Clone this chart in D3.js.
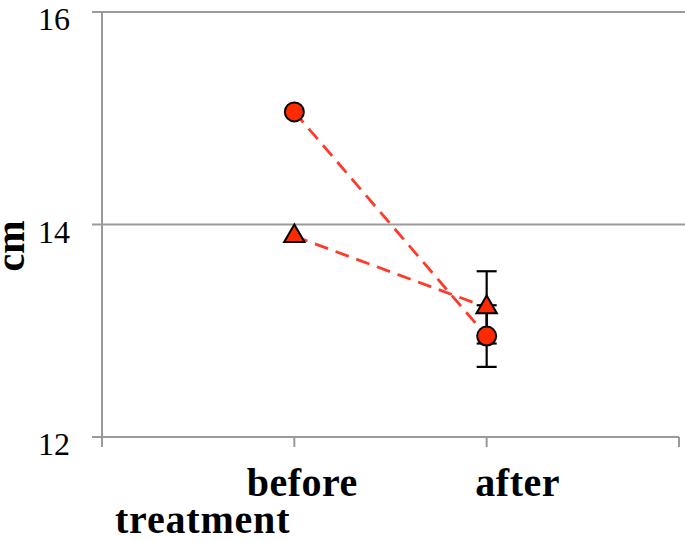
<!DOCTYPE html>
<html>
<head>
<meta charset="utf-8">
<script src="https://cdn.jsdelivr.net/npm/d3@7"></script>
<style>
  body { margin: 0; background: #fff; }
  svg { display: block; }
</style>
</head>
<body>
<div id="chart"></div>
<script>
// data
var categories = ["before", "after"];
var circleValues = [15.06, 12.95];
var circleErrors = [0, 0.29];
var triangleValues = [13.89, 13.22];
var triangleErrors = [0, 0.34];
var yTicks = [12, 14, 16];

var width = 685, height = 542;

var svg = d3.select("#chart").append("svg")
    .attr("width", width)
    .attr("height", height);

var x = d3.scalePoint().domain(categories).range([102, 679]).padding(1);
var y = d3.scaleLinear().domain([12, 16]).range([437, 12]);

var grey = "#9a9a9a";
var serif = "'Liberation Serif', 'DejaVu Serif', serif";

// grid lines
svg.append("g").selectAll("line")
    .data(yTicks.filter(function(d) { return d > 12; }))
    .enter().append("line")
    .attr("x1", 92).attr("x2", 685)
    .attr("y1", function(d) { return y(d); })
    .attr("y2", function(d) { return y(d); })
    .style("stroke", grey)
    .style("stroke-width", 2);

// y axis line
svg.append("line")
    .attr("x1", 102).attr("x2", 102)
    .attr("y1", y(16)).attr("y2", y(12))
    .style("stroke", grey).style("stroke-width", 2);

// x axis line + ticks
svg.append("line")
    .attr("x1", 92).attr("x2", x.range()[1])
    .attr("y1", y(12)).attr("y2", y(12))
    .style("stroke", grey).style("stroke-width", 2);

var tickXs = [x.range()[0]].concat(categories.map(function(d) { return x(d); }), [x.range()[1]]);
svg.append("g").selectAll("line")
    .data(tickXs)
    .enter().append("line")
    .attr("x1", function(d) { return d; })
    .attr("x2", function(d) { return d; })
    .attr("y1", y(12)).attr("y2", y(12) + 10)
    .style("stroke", grey).style("stroke-width", 2);

// y tick labels
svg.append("g").selectAll("text")
    .data(yTicks)
    .enter().append("text")
    .attr("x", 70)
    .attr("y", function(d) { return y(d) + 18; })
    .attr("text-anchor", "end")
    .style("font-family", serif)
    .style("font-size", "32px")
    .text(function(d) { return d; });

// category labels (they sit a bit right of the ticks in the original)
var labelShift = { before: 8, after: 31 };
svg.append("g").selectAll("text")
    .data(categories)
    .enter().append("text")
    .attr("x", function(d) { return x(d) + labelShift[d]; })
    .attr("y", 496)
    .attr("text-anchor", "middle")
    .style("font-family", serif)
    .style("font-weight", "bold")
    .style("font-size", "40px")
    .style("letter-spacing", "0.5px")
    .text(function(d) { return d; });

svg.append("text")
    .attr("x", 115).attr("y", 533)
    .style("font-family", serif)
    .style("font-weight", "bold")
    .style("font-size", "40px")
    .style("letter-spacing", "0.8px")
    .text("treatment");

svg.append("text")
    .attr("transform", "translate(24,246) rotate(-90)")
    .attr("text-anchor", "middle")
    .style("font-family", serif)
    .style("font-weight", "bold")
    .style("font-size", "40px")
    .text("cm");

// series
var series = [
  { values: circleValues, errors: circleErrors, symbol: d3.symbolCircle, size: Math.PI * 9.5 * 9.5 },
  { values: triangleValues, errors: triangleErrors, symbol: d3.symbolTriangle, size: 180 }
];

var line = d3.line()
    .x(function(d, i) { return x(categories[i]); })
    .y(function(d) { return y(d); });

svg.append("g").selectAll("path")
    .data(series)
    .enter().append("path")
    .attr("d", function(s) { return line(s.values); })
    .style("fill", "none")
    .style("stroke", "#ff3a2a")
    .style("stroke-width", 2.8)
    .style("stroke-dasharray", "14,8");

// error bars
series.forEach(function(s) {
  var g = svg.append("g");
  categories.forEach(function(c, i) {
    var e = s.errors[i];
    if (!e) return;
    var cx = x(c), lo = y(s.values[i] - e), hi = y(s.values[i] + e);
    g.append("line").attr("x1", cx).attr("x2", cx).attr("y1", lo).attr("y2", hi)
      .style("stroke", "black").style("stroke-width", 2.2);
    [lo, hi].forEach(function(yy) {
      g.append("line").attr("x1", cx - 10).attr("x2", cx + 10).attr("y1", yy).attr("y2", yy)
        .style("stroke", "black").style("stroke-width", 2.2);
    });
  });
});

// markers
series.forEach(function(s) {
  svg.append("g").selectAll("path")
    .data(s.values)
    .enter().append("path")
    .attr("d", d3.symbol().type(s.symbol).size(s.size))
    .attr("transform", function(d, i) { return "translate(" + x(categories[i]) + "," + y(d) + ")"; })
    .style("fill", "#ff2a00")
    .style("stroke", "black")
    .style("stroke-width", 2);
});
</script>
</body>
</html>
